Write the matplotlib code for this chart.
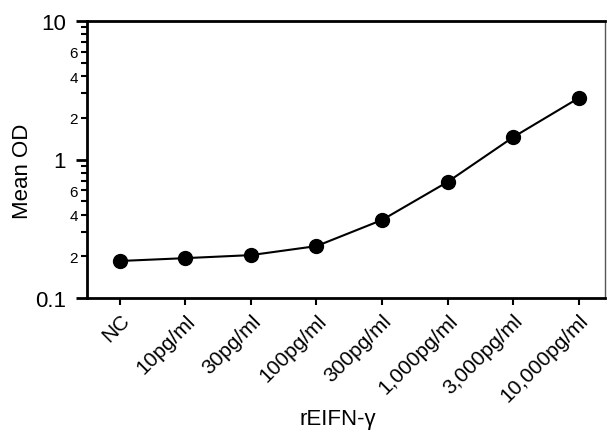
import matplotlib.pyplot as plt
from matplotlib.ticker import FixedLocator

plt.rcParams['font.family'] = ['Liberation Sans', 'DejaVu Sans']

# concentrations of rEIFN-gamma
doses = ["NC", "10pg/ml", "30pg/ml", "100pg/ml", "300pg/ml",
         "1,000pg/ml", "3,000pg/ml", "10,000pg/ml"]
mean_od = [0.185, 0.194, 0.204, 0.237, 0.366, 0.689, 1.45, 2.78]

major_ticks = [0.1, 1, 10]
major_labels = ["0.1", "1", "10"]
minor_ticks = [0.2, 0.3, 0.4, 0.5, 0.6, 0.7, 0.8, 0.9,
               2, 3, 4, 5, 6, 7, 8, 9]
minor_labels = ["2", "", "4", "", "6", "", "", "",
                "2", "", "4", "", "6", "", "", ""]

fig = plt.figure(figsize=(6.11, 4.31), dpi=100)
ax = fig.add_axes([87 / 611, 1 - 299 / 431, 518 / 611, 277 / 431])

x = list(range(len(doses)))
ax.plot(x, mean_od, c="k", lw=1.5, marker="o", ms=10, zorder=3, clip_on=False)

ax.set_yscale("log")
ax.set_ylim(0.1, 10)
ax.set_xlim(-0.5, 7.4)

ax.yaxis.set_major_locator(FixedLocator(major_ticks))
ax.set_yticklabels(major_labels, fontsize=16)
ax.yaxis.set_minor_locator(FixedLocator(minor_ticks))
ax.set_yticklabels(minor_labels, minor=True, fontsize=11)
ax.tick_params(axis="y", which="major", length=8, width=2, pad=7)
ax.tick_params(axis="y", which="minor", length=4.5, width=1.5, pad=2)

ax.set_xticks(x)
ax.set_xticklabels(doses, rotation=45, ha="right", rotation_mode="anchor", fontsize=15)
ax.tick_params(axis="x", length=5, width=1.5, pad=4)

for side in ["left", "bottom", "top"]:
    ax.spines[side].set_linewidth(2)
ax.spines["right"].set_linewidth(1)
ax.spines["right"].set_color("#555555")

ax.set_ylabel("Mean OD", fontsize=16)
ax.yaxis.set_label_coords(-54 / 518, (299 - 171) / 277)
ax.set_xlabel("rEIFN-\u03b3", fontsize=16)
ax.xaxis.set_label_coords((338 - 87) / 518, -(409 - 299) / 277)

fig.savefig("out.png", dpi=100)
